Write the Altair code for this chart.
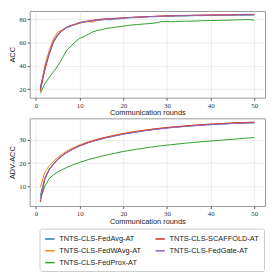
import altair as alt
import pandas as pd

rounds = list(range(1, 51))

series_names = ["TNTS-CLS-FedAvg-AT", "TNTS-CLS-FedWAvg-AT", "TNTS-CLS-FedProx-AT",
                "TNTS-CLS-SCAFFOLD-AT", "TNTS-CLS-FedGate-AT"]
series_colors = ["#1f77b4", "#ff7f0e", "#2ca02c", "#d62728", "#9467bd"]

acc_fedavg = [21, 37, 50, 60, 66, 70, 72.5, 74, 75.5, 76.5, 77.5, 78, 78.5, 79, 79.3, 79.6, 79.4, 80, 80.3, 80.6,
              81, 81.2, 81.3, 81.6, 81.8, 82, 82, 82.2, 82.3, 82.5, 82.4, 82.6, 82.7, 82.6, 82.8, 82.9, 83, 82.9, 83.1, 83.2,
              83.1, 83.2, 83.3, 83.4, 83.2, 83.5, 83.3, 83.4, 83.5, 83.6]
acc_fedwavg = [18, 40, 53, 63, 69, 70.5, 73, 74.5, 75.5, 76.5, 77.5, 77.8, 77.4, 78.8, 79.4, 79.7, 80, 80.3, 80.5, 81,
               81.3, 81.4, 81.6, 81.8, 82, 82.1, 82.3, 82.4, 82.6, 82.7, 82.8, 82.8, 83, 83, 83.1, 83.2, 83.2, 83.3, 83.3, 83.4,
               83.5, 83.5, 83.6, 83.7, 83.6, 83.7, 83.8, 83.7, 83.8, 83.8]
acc_fedprox = [16.5, 24.5, 30, 35, 40, 46.5, 53, 57, 60.5, 63.5, 65, 67, 69, 70.2, 71, 72, 72.5, 73, 73.5, 74,
               74.5, 75, 75.3, 75.6, 75.9, 76.2, 76.5, 77.2, 78, 78, 77.8, 78, 78.1, 78.2, 78.2, 78.3, 78.4, 78.6, 78.7, 78.8,
               78.8, 78.9, 79, 79.1, 79.2, 79.3, 79.4, 79.6, 79.5, 79]
acc_scaffold = [19, 36, 50, 61, 67, 70.5, 73, 74.5, 75.5, 77, 77.8, 78.5, 79, 79.5, 80, 80.3, 80.4, 80.6, 80.9, 81.1,
                81.3, 81.5, 81.7, 81.8, 82, 82.2, 82.3, 82.5, 82.6, 82.8, 82.9, 83, 83, 83.1, 83.2, 83.3, 83.3, 83.4, 83.5, 83.5,
                83.6, 83.6, 83.7, 83.7, 83.8, 83.9, 83.9, 84, 84, 84]
acc_fedgate = [22, 38, 51, 61, 66.5, 70, 72.8, 74.2, 75.8, 77, 77.6, 78.2, 78.7, 79.2, 79.5, 79.8, 80.1, 80.4, 80.7, 81,
               81.2, 81.4, 81.6, 81.8, 81.9, 82.1, 82.2, 82.4, 82.5, 82.6, 82.7, 82.8, 82.9, 83, 83, 83.1, 83.2, 83.2, 83.3, 83.3,
               83.4, 83.4, 83.5, 83.5, 83.6, 83.6, 83.7, 83.7, 83.7, 83.8]

adv_fedavg = [6, 13.5, 17.3, 19.8, 21.8, 23.3, 24.6, 25.6, 26.6, 27.4, 28.1, 28.8, 29.4, 29.9, 30.4, 30.9, 31.3, 31.7, 32.1, 32.5,
              32.8, 33.1, 33.4, 33.7, 34, 34.2, 34.4, 34.7, 34.9, 35.1, 35.3, 35.4, 35.6, 35.8, 35.9, 36, 36.2, 36.3, 36.4, 36.5,
              36.6, 36.7, 36.8, 36.9, 37, 37.1, 37.1, 37.2, 37.3, 37.3]
adv_fedwavg = [9.6, 16, 18.8, 20.8, 22.5, 23.9, 25.1, 26.1, 27, 27.8, 28.5, 29.2, 29.7, 30.2, 30.7, 31.2, 31.6, 32, 32.4, 32.7,
               33.1, 33.4, 33.7, 33.9, 34.2, 34.4, 34.7, 34.9, 35.1, 35.3, 35.5, 35.6, 35.8, 35.9, 36.1, 36.2, 36.4, 36.5, 36.6, 36.7,
               36.8, 36.9, 37, 37.1, 37.2, 37.3, 37.3, 37.4, 37.5, 37.5]
adv_fedprox = [4.5, 10, 13.3, 15, 16.2, 17.2, 18.1, 18.9, 19.6, 20.3, 20.9, 21.5, 22, 22.5, 23, 23.4, 23.8, 24.2, 24.6, 25,
               25.3, 25.6, 25.9, 26.2, 26.5, 26.8, 27, 27.3, 27.5, 27.7, 27.9, 28.1, 28.3, 28.5, 28.7, 28.8, 29, 29.2, 29.3, 29.5,
               29.6, 29.8, 29.9, 30.1, 30.2, 30.4, 30.5, 30.7, 30.8, 31]
adv_scaffold = [3.3, 13, 17, 19.5, 21.5, 23.1, 24.5, 25.6, 26.6, 27.4, 28.2, 28.9, 29.5, 30.1, 30.6, 31, 31.4, 31.8, 32.2, 32.6,
                32.9, 33.2, 33.5, 33.8, 34.1, 34.3, 34.6, 34.8, 35, 35.2, 35.4, 35.6, 35.7, 35.9, 36.1, 36.2, 36.3, 36.5, 36.6, 36.7,
                36.8, 36.9, 37, 37.1, 37.2, 37.3, 37.3, 37.4, 37.5, 37.5]
adv_fedgate = [4.5, 13.2, 17.2, 19.7, 21.7, 23.2, 24.5, 25.5, 26.5, 27.3, 28, 28.7, 29.3, 29.8, 30.3, 30.8, 31.2, 31.6, 32, 32.4,
               32.7, 33, 33.3, 33.6, 33.9, 34.1, 34.4, 34.6, 34.8, 35, 35.2, 35.4, 35.5, 35.7, 35.8, 36, 36.1, 36.2, 36.4, 36.5,
               36.6, 36.7, 36.8, 36.9, 37, 37, 37.1, 37.2, 37.2, 37.3]

acc_all = [acc_fedavg, acc_fedwavg, acc_fedprox, acc_scaffold, acc_fedgate]
adv_all = [adv_fedavg, adv_fedwavg, adv_fedprox, adv_scaffold, adv_fedgate]

rows = []
for name, acc, adv in zip(series_names, acc_all, adv_all):
    for r, a, v in zip(rounds, acc, adv):
        rows.append({"round": r, "series": name, "acc": a, "adv": v})
df = pd.DataFrame(rows)

color = alt.Color("series:N",
                  scale=alt.Scale(domain=series_names, range=series_colors),
                  legend=alt.Legend(title=None, orient="none", legendX=10, legendY=221,
                                    columns=2, direction="vertical",
                                    symbolType="stroke", symbolStrokeWidth=1.5, symbolSize=90,
                                    labelFont="Liberation Sans", labelFontSize=7.5, labelColor="#222",
                                    columnPadding=10, rowPadding=3, padding=5,
                                    strokeColor="#cccccc", fillColor="white", cornerRadius=2,
                                    labelLimit=200))

xax = alt.Axis(title="Communication rounds", values=[0, 10, 20, 30, 40, 50], format="d",
               titleFont="Liberation Sans", titleFontSize=7.5, titleFontWeight="normal",
               labelFont="Liberation Serif", labelFontSize=7, titlePadding=1, labelPadding=1,
               tickSize=2.5, tickColor="#555", labelColor="#333", titleColor="#222")
xscale = alt.Scale(domain=[-1.45, 52.45], nice=False, zero=False)


def panel(field, title, domain, ticks, h):
    return alt.Chart(df).mark_line(strokeWidth=1, clip=True).encode(
        x=alt.X("round:Q", scale=xscale, axis=xax),
        y=alt.Y(f"{field}:Q", scale=alt.Scale(domain=domain, nice=False, zero=False),
                axis=alt.Axis(title=title, values=ticks, format="d",
                              titleFont="Liberation Sans", titleFontSize=7.5, titleFontWeight="normal",
                              labelFont="Liberation Serif", labelFontSize=7, titlePadding=2, labelPadding=1.5,
                              tickSize=2.5, tickColor="#555", labelColor="#333", titleColor="#222")),
        color=color,
        detail="series:N",
    ).properties(width=239, height=h)

top = panel("acc", "ACC", [12.8, 86.9], [20, 40, 60, 80], 88)
bottom = panel("adv", "ADV-ACC", [1.6, 39.2], [10, 20, 30], 89)

chart = alt.vconcat(top, bottom, spacing=0).properties(
    padding=0
).configure_view(stroke="#999999", strokeWidth=1).configure_axis(
    grid=True, gridColor="#e6e6e6", gridWidth=0.8, domain=False
)

chart.save("out.html", embed_options={"renderer": "svg", "actions": False})
